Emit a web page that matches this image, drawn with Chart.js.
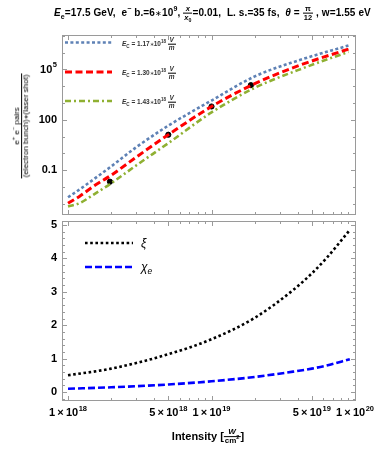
<!DOCTYPE html>
<html>
<head>
<meta charset="utf-8">
<script src="https://cdn.jsdelivr.net/npm/chart.js@4"></script>
<style>
  body { margin: 0; width: 374px; height: 466px; position: relative; background: #fff; overflow: hidden;
         font-family: "Liberation Sans", Arial, sans-serif; }
  canvas { position: absolute; left: 0; }
  .t { position: absolute; white-space: nowrap; color: #000; }
  .fr { display: inline-block; vertical-align: middle; text-align: center; line-height: 1.05; }
  .fr > span { display: block; padding: 0 1px; }
  .fr > .n { border-bottom: 1px solid #000; }
  sub, sup { font-size: 70%; line-height: 0; }
  .st { font-size: 75%; font-weight: normal; }
</style>
</head>
<body>
<canvas id="top" width="374" height="220" style="top:0"></canvas>
<canvas id="bottom" width="374" height="246" style="top:220px"></canvas>

<div class="t" style="left:54px;top:13px;transform:translateY(-50%);font-size:10px;font-weight:bold;letter-spacing:0.1px">
  <i>E</i><sub>e</sub>=17.5 GeV,&nbsp; e<sup>−</sup> b.=6<span class="st">∗</span>10<sup>9</sup>,
  <span class="fr" style="font-size:7.5px"><span class="n"><i>x</i></span><span><i>x</i><sub>0</sub></span></span>=0.01,&nbsp;
  L. s.=35 fs,&nbsp; <i>θ</i> =
  <span class="fr" style="font-size:7.5px"><span class="n">π</span><span>12</span></span> , w=1.55 eV
</div>

<div class="t" style="left:22px;top:126px;transform:translate(-50%,-50%) rotate(-90deg);font-size:8px">
  <span class="fr"><span class="n">e<sup>+</sup> e<sup>−</sup> pairs</span><span>(electron bunch)<span class="st">∗</span>(laser shot)</span></span>
</div>

<div class="t" style="left:208px;top:437px;transform:translate(-50%,-50%);font-size:11px;font-weight:bold">
  Intensity [<span class="fr" style="font-size:8px"><span class="n"><i>W</i></span><span>cm<sup>2</sup></span></span>]
</div>

<div class="t" style="left:122px;top:44px;transform:translateY(-50%);font-size:6.5px;font-weight:bold;color:#333">
  <i>E</i><sub>C</sub> = 1.17<span class="st">∗</span>10<sup>18</sup> <span class="fr"><span class="n"><i>V</i></span><span><i>m</i></span></span>
</div>
<div class="t" style="left:122px;top:73px;transform:translateY(-50%);font-size:6.5px;font-weight:bold;color:#333">
  <i>E</i><sub>C</sub> = 1.30<span class="st">∗</span>10<sup>18</sup> <span class="fr"><span class="n"><i>V</i></span><span><i>m</i></span></span>
</div>
<div class="t" style="left:122px;top:102px;transform:translateY(-50%);font-size:6.5px;font-weight:bold;color:#333">
  <i>E</i><sub>C</sub> = 1.43<span class="st">∗</span>10<sup>18</sup> <span class="fr"><span class="n"><i>V</i></span><span><i>m</i></span></span>
</div>
<div class="t" style="left:141px;top:243px;transform:translateY(-50%);font-size:12px;font-style:italic">ξ</div>
<div class="t" style="left:141px;top:267px;transform:translateY(-50%);font-size:12px;font-style:italic">χ<sub>e</sub></div>

<script>
// laser intensity in W/cm^2
const intensity = [1e18, 1.2e18, 1.5e18, 2e18, 3e18, 5e18, 1e19, 2e19, 4e19, 9e19];
// pairs per (electron bunch)*(laser shot)
const pairs117 = [2.5e-3, 7.1e-3, 2.8e-2, 0.17, 2.4, 45, 1.4e3, 3.8e4, 3.3e5, 2.6e6];
const pairs130 = [1.1e-3, 2.8e-3, 1.1e-2, 5.1e-2, 0.62, 13, 620, 1.4e4, 1.6e5, 1.6e6];
const pairs143 = [7e-4, 1.1e-3, 3.5e-3, 1.7e-2, 0.2, 4.1, 275, 8e3, 9e4, 1.1e6];
const markX = [1.96e18, 5e18, 1e19, 1.88e19];
const markY = [2.1e-2, 13, 620, 1.15e4];

const intensity2 = [1e18, 2e18, 5e18, 1e19, 2e19, 3.7e19, 5e19, 6.3e19, 9.2e19];
const xi = [0.5, 0.7, 1.13, 1.58, 2.22, 3.05, 3.55, 4.0, 4.85];
const chi = [0.095, 0.14, 0.225, 0.32, 0.45, 0.61, 0.7, 0.79, 0.98];

const xLabels = [[1e18, '1', '18'], [5e18, '5', '18'], [1e19, '1', '19'], [5e19, '5', '19'], [1e20, '1', '20']];
const topYLabels = [[0.1, '0.1', ''], [100, '100', ''], [1e5, '10', '5']];
const bottomYLabels = [0, 1, 2, 3, 4, 5];

const FONT = '"Liberation Sans", Arial, sans-serif';

function pts(xs, ys) {
  return xs.map((x, i) => ({ x: x, y: ys[i] }));
}

// x ticks: major at 1,5 and minor at the others of each decade
const xTicks = [];
[1e18, 1e19].forEach(d => {
  for (let m = 1; m <= 9; m++) xTicks.push([m * d, (m == 1 || m == 5) ? 5 : 3]);
});
xTicks.push([1e20, 5]);

function drawLabel(ctx, x, y, base, sup, align) {
  ctx.font = 'bold 11px ' + FONT;
  const wb = ctx.measureText(base).width;
  ctx.font = 'bold 7.5px ' + FONT;
  const ws = sup ? ctx.measureText(sup).width + 0.5 : 0;
  const w = wb + ws;
  let x0 = align == 'right' ? x - w : x - w / 2;
  ctx.textAlign = 'left';
  ctx.font = 'bold 11px ' + FONT;
  ctx.fillText(base, x0, y);
  if (sup) {
    ctx.font = 'bold 7.5px ' + FONT;
    ctx.fillText(sup, x0 + wb + 0.5, y - 5);
  }
}

function makeFrame(cfg) {
  return {
    id: 'frame',
    afterDraw(chart) {
      const { ctx, chartArea: a, scales: { x, y } } = chart;
      ctx.save();
      ctx.strokeStyle = '#9a9a9a';
      ctx.lineWidth = 1;
      ctx.strokeRect(a.left + 0.5, a.top + 0.5, a.right - a.left - 1, a.bottom - a.top - 1);
      ctx.beginPath();
      xTicks.forEach(([v, len]) => {
        const px = Math.round(x.getPixelForValue(v)) + 0.5;
        ctx.moveTo(px, a.bottom); ctx.lineTo(px, a.bottom - len);
        ctx.moveTo(px, a.top); ctx.lineTo(px, a.top + len);
      });
      cfg.yTicks.forEach(([v, len]) => {
        const py = Math.round(y.getPixelForValue(v)) + 0.5;
        ctx.moveTo(a.left, py); ctx.lineTo(a.left + len, py);
        ctx.moveTo(a.right, py); ctx.lineTo(a.right - len, py);
      });
      ctx.stroke();

      ctx.fillStyle = '#000';
      ctx.textBaseline = 'middle';
      cfg.yLabels.forEach(([v, base, sup]) => {
        drawLabel(ctx, a.left - 5, y.getPixelForValue(v) + (sup ? 1 : 0), base, sup, 'right');
      });
      if (cfg.xLabels) {
        ctx.textBaseline = 'alphabetic';
        xLabels.forEach(([v, m, sup]) => {
          drawLabel(ctx, x.getPixelForValue(v), a.bottom + 15, m + '\u2009×\u200910', sup, 'center');
        });
      }

      // legend samples
      cfg.legend.forEach(([i, ly, x1, x2]) => {
        const ds = chart.data.datasets[i];
        ctx.strokeStyle = ds.borderColor;
        ctx.lineWidth = ds.borderWidth;
        ctx.setLineDash(ds.borderDash);
        ctx.beginPath();
        ctx.moveTo(x1, ly); ctx.lineTo(x2, ly);
        ctx.stroke();
      });
      ctx.restore();
    }
  };
}

function baseOptions(yScale, xHeight, padTop) {
  return {
    responsive: false,
    animation: false,
    devicePixelRatio: 1,
    layout: { padding: { top: padTop, right: 18, bottom: 0, left: 0 } },
    plugins: { legend: { display: false }, tooltip: { enabled: false } },
    scales: {
      x: {
        type: 'logarithmic', min: 9.08e17, max: 1.016e20,
        ticks: { display: false }, grid: { display: false }, border: { display: false },
        afterFit: s => { s.height = xHeight; }
      },
      y: Object.assign({
        ticks: { display: false }, grid: { display: false }, border: { display: false },
        afterFit: s => { s.width = 62; }
      }, yScale)
    }
  };
}

// top panel: pair yield
const topYTicks = [];
for (let e = -3; e <= 7; e++) topYTicks.push([Math.pow(10, e), (e == -1 || e == 2 || e == 5) ? 5 : 3]);

new Chart(document.getElementById('top'), {
  type: 'line',
  data: {
    datasets: [
      { data: pts(intensity, pairs117), borderColor: '#5e81b5', borderWidth: 2.6, borderDash: [3, 2.4] },
      { data: pts(intensity, pairs130), borderColor: '#ff0000', borderWidth: 3, borderDash: [7, 3.5] },
      { data: pts(intensity, pairs143), borderColor: '#8fb032', borderWidth: 2.6, borderDash: [6, 3, 2, 3] },
      { type: 'scatter', data: pts(markX, markY), backgroundColor: '#000', borderColor: '#000', pointRadius: 2.6 }
    ].map(d => Object.assign({ pointRadius: 0, fill: false, cubicInterpolationMode: 'monotone' }, d))
  },
  options: baseOptions({ type: 'logarithmic', min: 2.2e-4, max: 1.1e7 }, 3, 35),
  plugins: [makeFrame({
    yTicks: topYTicks,
    yLabels: topYLabels,
    xLabels: false,
    legend: [[0, 42.5, 65, 112], [1, 72, 65, 112], [2, 101, 65, 112]]
  })]
});

// bottom panel: xi and chi_e
const bottomYTicks = [];
for (let k = -1; k <= 25; k++) bottomYTicks.push([k / 5, k % 5 == 0 ? 5 : 3]);

new Chart(document.getElementById('bottom'), {
  type: 'line',
  data: {
    datasets: [
      { data: pts(intensity2, xi), borderColor: '#000000', borderWidth: 2.6, borderDash: [2.6, 2.6] },
      { data: pts(intensity2, chi), borderColor: '#0000ff', borderWidth: 2.6, borderDash: [7, 3] }
    ].map(d => Object.assign({ pointRadius: 0, fill: false, cubicInterpolationMode: 'monotone' }, d))
  },
  options: baseOptions({ type: 'linear', min: -0.27, max: 5.12 }, 65, 1),
  plugins: [makeFrame({
    yTicks: bottomYTicks,
    yLabels: bottomYLabels.map(v => [v, String(v), '']),
    xLabels: true,
    legend: [[0, 23, 85, 133], [1, 47, 85, 133]]
  })]
});
</script>
</body>
</html>
